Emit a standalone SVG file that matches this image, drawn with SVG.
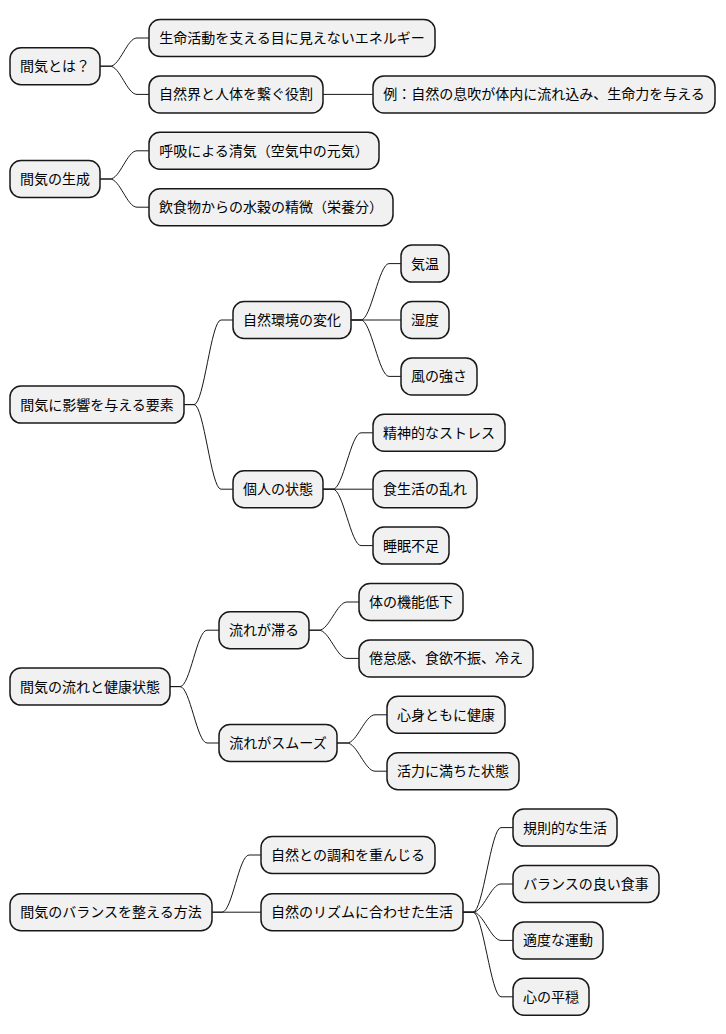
<svg xmlns="http://www.w3.org/2000/svg" width="726" height="1034" viewBox="0 0 726 1034">
<style>
.n rect{fill:#F1F1F1;stroke:#181818;stroke-width:1.5}
.n text{font-family:"Noto Sans CJK JP","Noto Sans",sans-serif;font-size:14px;fill:#000;text-anchor:middle}
#connectors path{fill:none;stroke:#181818;stroke-width:1}
</style>
<rect width="726" height="1034" fill="#FFFFFF"/>
<g id="connectors">
<path d="M100 66.2 L110 66.2 C120 66.2 127 38 137 38 L149 38"/>
<path d="M100 66.2 L110 66.2 C120 66.2 127 94.4 137 94.4 L149 94.4"/>
<path d="M323 94.4 L373 94.4"/>
<path d="M100 179 L110 179 C120 179 127 150.8 137 150.8 L149 150.8"/>
<path d="M100 179 L110 179 C120 179 127 207.2 137 207.2 L149 207.2"/>
<path d="M184 404.6 L194 404.6 C204 404.6 211 320 221 320 L233 320"/>
<path d="M184 404.6 L194 404.6 C204 404.6 211 489.2 221 489.2 L233 489.2"/>
<path d="M351 320 L361 320 C371 320 379 263.6 389 263.6 L401 263.6"/>
<path d="M351 320 L401 320"/>
<path d="M351 320 L361 320 C371 320 379 376.4 389 376.4 L401 376.4"/>
<path d="M323 489.2 L333 489.2 C343 489.2 351 432.8 361 432.8 L373 432.8"/>
<path d="M323 489.2 L373 489.2"/>
<path d="M323 489.2 L333 489.2 C343 489.2 351 545.6 361 545.6 L373 545.6"/>
<path d="M170 686.6 L180 686.6 C190 686.6 197 630.2 207 630.2 L219 630.2"/>
<path d="M170 686.6 L180 686.6 C190 686.6 197 743 207 743 L219 743"/>
<path d="M309 630.2 L319 630.2 C329 630.2 337 602 347 602 L359 602"/>
<path d="M309 630.2 L319 630.2 C329 630.2 337 658.4 347 658.4 L359 658.4"/>
<path d="M337 743 L347 743 C357 743 365 714.8 375 714.8 L387 714.8"/>
<path d="M337 743 L347 743 C357 743 365 771.2 375 771.2 L387 771.2"/>
<path d="M212 912.2 L222 912.2 C232 912.2 239 855 249 855 L261 855"/>
<path d="M212 912.2 L261 912.2"/>
<path d="M463 912.2 L473 912.2 C483 912.2 491 827.6 501 827.6 L513 827.6"/>
<path d="M463 912.2 L473 912.2 C483 912.2 491 884 501 884 L513 884"/>
<path d="M463 912.2 L473 912.2 C483 912.2 491 940.4 501 940.4 L513 940.4"/>
<path d="M463 912.2 L473 912.2 C483 912.2 491 996.8 501 996.8 L513 996.8"/>
</g>
<g id="n1" class="n"><rect x="10" y="47.7" width="90" height="37" rx="11"/><text x="55" y="71.2">間気とは？</text></g>
<g id="n1a" class="n"><rect x="149" y="19.5" width="286" height="37" rx="11"/><text x="292" y="43">生命活動を支える目に見えないエネルギー</text></g>
<g id="n1b" class="n"><rect x="149" y="75.9" width="174" height="37" rx="11"/><text x="236" y="99.4">自然界と人体を繋ぐ役割</text></g>
<g id="n1b1" class="n"><rect x="373" y="75.9" width="342" height="37" rx="11"/><text x="544" y="99.4">例：自然の息吹が体内に流れ込み、生命力を与える</text></g>
<g id="n2" class="n"><rect x="10" y="160.5" width="90" height="37" rx="11"/><text x="55" y="184">間気の生成</text></g>
<g id="n2a" class="n"><rect x="149" y="132.3" width="230" height="37" rx="11"/><text x="264" y="155.8">呼吸による清気（空気中の元気）</text></g>
<g id="n2b" class="n"><rect x="149" y="188.7" width="244" height="37" rx="11"/><text x="271" y="212.2">飲食物からの水穀の精微（栄養分）</text></g>
<g id="n3" class="n"><rect x="10" y="386.1" width="174" height="37" rx="11"/><text x="97" y="409.6">間気に影響を与える要素</text></g>
<g id="n3a" class="n"><rect x="233" y="301.5" width="118" height="37" rx="11"/><text x="292" y="325">自然環境の変化</text></g>
<g id="n3a1" class="n"><rect x="401" y="245.1" width="48" height="37" rx="11"/><text x="425" y="268.6">気温</text></g>
<g id="n3a2" class="n"><rect x="401" y="301.5" width="48" height="37" rx="11"/><text x="425" y="325">湿度</text></g>
<g id="n3a3" class="n"><rect x="401" y="357.9" width="76" height="37" rx="11"/><text x="439" y="381.4">風の強さ</text></g>
<g id="n3b" class="n"><rect x="233" y="470.7" width="90" height="37" rx="11"/><text x="278" y="494.2">個人の状態</text></g>
<g id="n3b1" class="n"><rect x="373" y="414.3" width="132" height="37" rx="11"/><text x="439" y="437.8">精神的なストレス</text></g>
<g id="n3b2" class="n"><rect x="373" y="470.7" width="104" height="37" rx="11"/><text x="425" y="494.2">食生活の乱れ</text></g>
<g id="n3b3" class="n"><rect x="373" y="527.1" width="76" height="37" rx="11"/><text x="411" y="550.6">睡眠不足</text></g>
<g id="n4" class="n"><rect x="10" y="668.1" width="160" height="37" rx="11"/><text x="90" y="691.6">間気の流れと健康状態</text></g>
<g id="n4a" class="n"><rect x="219" y="611.7" width="90" height="37" rx="11"/><text x="264" y="635.2">流れが滞る</text></g>
<g id="n4a1" class="n"><rect x="359" y="583.5" width="104" height="37" rx="11"/><text x="411" y="607">体の機能低下</text></g>
<g id="n4a2" class="n"><rect x="359" y="639.9" width="174" height="37" rx="11"/><text x="446" y="663.4">倦怠感、食欲不振、冷え</text></g>
<g id="n4b" class="n"><rect x="219" y="724.5" width="118" height="37" rx="11"/><text x="278" y="748">流れがスムーズ</text></g>
<g id="n4b1" class="n"><rect x="387" y="696.3" width="118" height="37" rx="11"/><text x="446" y="719.8">心身ともに健康</text></g>
<g id="n4b2" class="n"><rect x="387" y="752.7" width="132" height="37" rx="11"/><text x="453" y="776.2">活力に満ちた状態</text></g>
<g id="n5" class="n"><rect x="10" y="893.7" width="202" height="37" rx="11"/><text x="111" y="917.2">間気のバランスを整える方法</text></g>
<g id="n5a" class="n"><rect x="261" y="836.5" width="174" height="37" rx="11"/><text x="348" y="860">自然との調和を重んじる</text></g>
<g id="n5b" class="n"><rect x="261" y="893.7" width="202" height="37" rx="11"/><text x="362" y="917.2">自然のリズムに合わせた生活</text></g>
<g id="n5b1" class="n"><rect x="513" y="809.1" width="104" height="37" rx="11"/><text x="565" y="832.6">規則的な生活</text></g>
<g id="n5b2" class="n"><rect x="513" y="865.5" width="146" height="37" rx="11"/><text x="586" y="889">バランスの良い食事</text></g>
<g id="n5b3" class="n"><rect x="513" y="921.9" width="90" height="37" rx="11"/><text x="558" y="945.4">適度な運動</text></g>
<g id="n5b4" class="n"><rect x="513" y="978.3" width="76" height="37" rx="11"/><text x="551" y="1001.8">心の平穏</text></g>
</svg>
